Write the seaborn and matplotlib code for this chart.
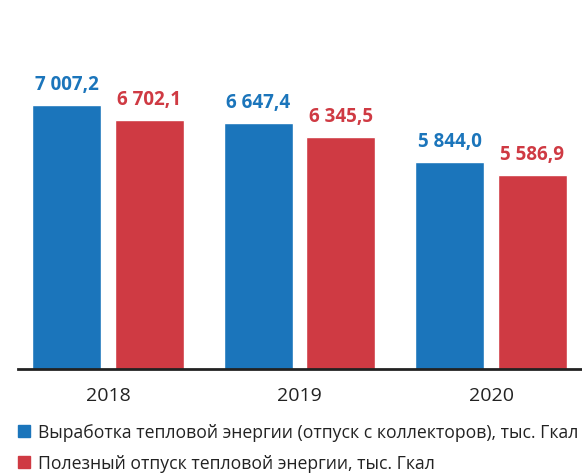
import matplotlib
matplotlib.use("Agg")
import matplotlib.pyplot as plt
from matplotlib.lines import Line2D
import seaborn as sns
import pandas as pd

years = ["2018", "2019", "2020"]
production = [7007.2, 6647.4, 5844.0]
useful_supply = [6702.1, 6345.5, 5586.9]
series_names = [
    "Выработка тепловой энергии (отпуск с коллекторов), тыс. Гкал",
    "Полезный отпуск тепловой энергии, тыс. Гкал",
]
colors = ["#1b75bb", "#cf3a43"]

df = pd.DataFrame({
    "year": years * 2,
    "value": production + useful_supply,
    "series": [series_names[0]] * 3 + [series_names[1]] * 3,
})

sns.set_style("white")
plt.rcParams["font.family"] = ["Open Sans", "DejaVu Sans"]

fig = plt.figure(figsize=(5.82, 4.77), dpi=100)
ax = fig.add_axes([18 / 582, 107 / 477, 564 / 582, 370 / 477])

sns.barplot(data=df, x="year", y="value", hue="series", palette=colors,
            saturation=1, width=0.86, gap=0.16, legend=False, ax=ax)

def fmt(v):
    return f"{v:,.1f}".replace(",", " ").replace(".", ",")

for cont, col in zip(ax.containers, colors):
    ax.bar_label(cont, labels=[fmt(b.get_height()) for b in cont],
                 padding=8, color=col, fontsize=13.5, fontweight="bold")

ax.set_ylim(1620, 9171)
ax.set_xlim(-0.47, 2.475)
ax.set_xlabel("")
ax.set_ylabel("")
ax.set_yticks([])
for s in ["top", "right", "left"]:
    ax.spines[s].set_visible(False)
ax.spines["bottom"].set_color("#222222")
ax.spines["bottom"].set_linewidth(2)
ax.tick_params(axis="x", length=0, pad=12, labelsize=14, colors="#222222")

handles = [Line2D([], [], marker="s", linestyle="", markersize=9,
                  markerfacecolor=c, markeredgecolor=c) for c in colors]
fig.legend(handles, series_names, loc="upper left",
           bbox_to_anchor=(8 / 582, 1 - 417 / 477), frameon=False,
           fontsize=12.7, handletextpad=0.3, handlelength=1.0,
           labelspacing=0.72, labelcolor="#222222", borderaxespad=0)

fig.savefig("out.png", dpi=100)
